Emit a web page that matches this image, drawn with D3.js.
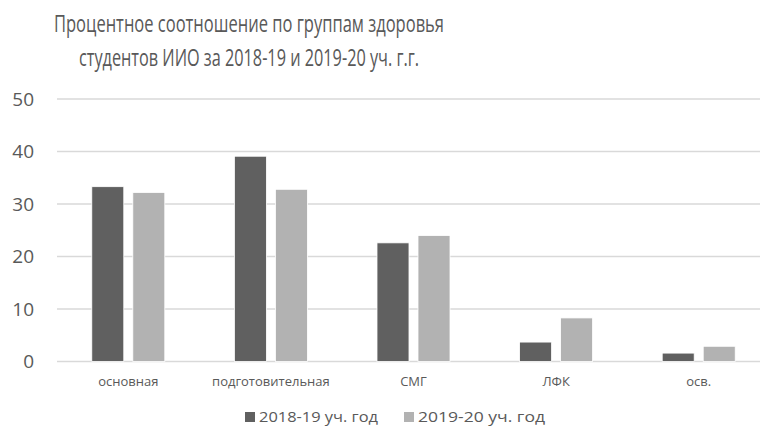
<!DOCTYPE html>
<html>
<head>
<meta charset="utf-8">
<script src="https://cdn.jsdelivr.net/npm/d3@7"></script>
<style>
  html, body { margin: 0; padding: 0; background: #fff; }
  svg { display: block; }
  text { font-family: "Open Sans", "Noto Sans", sans-serif; fill: #595959; }
</style>
</head>
<body>
<svg id="chart" width="760" height="427"></svg>
<script>
// Health groups of students, percent share per academic year
const categories = ["основная", "подготовительная", "СМГ", "ЛФК", "осв."];
const seriesNames = ["2018-19 уч. год", "2019-20 уч. год"];
const values2018 = [33.3, 39.1, 22.6, 3.7, 1.6];
const values2019 = [32.2, 32.8, 24.0, 8.3, 2.9];
const yTicks = [0, 10, 20, 30, 40, 50];
const titleLines = [
  "Процентное соотношение по группам здоровья",
  "студентов ИИО за 2018-19 и 2019-20 уч. г.г."
];
const colors = ["#606060", "#b2b2b2"];

const seriesValues = [values2018, values2019];
const rows = categories.map((c, i) => ({
  category: c,
  items: seriesNames.map((s, k) => ({ series: s, value: seriesValues[k][i] }))
}));

const svg = d3.select("#chart");

const plot = { left: 57, right: 770, top: 99, bottom: 361.5 };

const x0 = d3.scaleBand()
  .domain(categories)
  .range([plot.left, plot.right])
  .paddingInner(0.488)
  .paddingOuter(0.244);

const x1 = d3.scaleBand()
  .domain(seriesNames)
  .range([0, x0.bandwidth()])
  .paddingInner(0.22);

const y = d3.scaleLinear()
  .domain([0, 50])
  .range([plot.bottom, plot.top]);

const color = d3.scaleOrdinal().domain(seriesNames).range(colors);

// Title, two centred lines
const title = svg.append("g").attr("class", "title");
title.selectAll("text")
  .data(titleLines)
  .join("text")
  .attr("x", 249)
  .attr("y", (d, i) => 32 + i * 34)
  .attr("text-anchor", "middle")
  .attr("font-size", 23)
  .attr("textLength", (d, i) => i === 0 ? 390 : 340)
  .attr("lengthAdjust", "spacingAndGlyphs")
  .text(d => d);

// Horizontal gridlines
svg.append("g")
  .selectAll("line")
  .data(yTicks)
  .join("line")
  .attr("x1", plot.left)
  .attr("x2", plot.right)
  .attr("y1", d => y(d))
  .attr("y2", d => y(d))
  .attr("stroke", "#d9d9d9")
  .attr("stroke-width", 1.3);

// Y axis labels
const yAxis = d3.axisLeft(y).tickValues(yTicks).tickSize(0).tickPadding(0);
const yg = svg.append("g")
  .attr("transform", `translate(34,0)`)
  .call(yAxis);
yg.select(".domain").remove();
yg.selectAll("text")
  .attr("font-size", 19)
  .attr("font-family", "'Open Sans', sans-serif")
  .attr("fill", "#595959");

// Bars
const groups = svg.append("g")
  .selectAll("g")
  .data(rows)
  .join("g")
  .attr("transform", d => `translate(${x0(d.category)},0)`);

groups.selectAll("rect")
  .data(d => d.items)
  .join("rect")
  .attr("x", d => x1(d.series))
  .attr("y", d => y(d.value))
  .attr("width", x1.bandwidth())
  .attr("height", d => y(0) - y(d.value))
  .attr("fill", d => color(d.series))
  .attr("stroke", "#ffffff")
  .attr("stroke-width", 0.8);

// Category labels
const xAxis = d3.axisBottom(x0).tickSize(0).tickPadding(0);
const xg = svg.append("g")
  .attr("transform", `translate(0,${plot.bottom + 15})`)
  .call(xAxis);
xg.select(".domain").remove();
xg.selectAll("text")
  .attr("font-size", 13)
  .attr("font-family", "'Open Sans', sans-serif")
  .attr("fill", "#595959");

// Legend
const legendItems = [
  { name: seriesNames[0], x: 245 },
  { name: seriesNames[1], x: 404 }
];
const legend = svg.append("g").attr("class", "legend");
const li = legend.selectAll("g")
  .data(legendItems)
  .join("g")
  .attr("transform", d => `translate(${d.x},412)`);
li.append("rect")
  .attr("width", 10)
  .attr("height", 10)
  .attr("fill", d => color(d.name));
li.append("text")
  .attr("x", 14)
  .attr("y", 10)
  .attr("font-size", 15)
  .attr("textLength", (d, i) => i === 0 ? 119 : 127)
  .attr("lengthAdjust", "spacingAndGlyphs")
  .text(d => d.name);
</script>
</body>
</html>
